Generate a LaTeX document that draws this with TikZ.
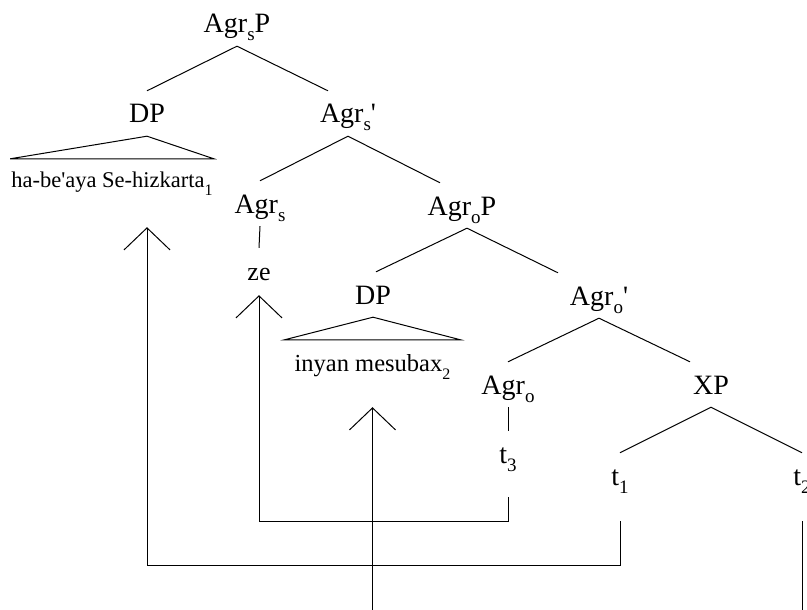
\documentclass[tikz,border=0pt]{standalone}
\usepackage{fontspec}
\setmainfont{Liberation Serif}[Ligatures=TeXOff]
\usetikzlibrary{arrows.meta}

% lowered index, size in pt as optional argument
\newcommand{\treesub}[2][19]{\raisebox{-8pt}{\fontsize{#1}{#1}\selectfont #2}}

\begin{document}
\begin{tikzpicture}[
    x=1pt, y=-1pt,
    lbl/.style={font=\fontsize{28}{30}\selectfont, anchor=base,
      inner xsep=1pt, inner ysep=0pt, text height=32pt, text depth=13pt},
    leaf/.style={font=\fontsize{22.5}{25}\selectfont, anchor=base,
      inner xsep=1pt, inner ysep=0pt, text height=28pt, text depth=8pt},
    br/.style={line width=1pt},
    mv/.style={line width=1pt, -{Straight Barb[length=22pt,width=46pt]}}
  ]
    \clip (0,0) rectangle (807,610);

    %% Agr_s projection
    \node[lbl] (root)  at (237,33)  {Agr\treesub{s}P};
    \node[lbl] (dpa)   at (147,123) {DP};
    \node[lbl] (agrsb) at (348,123) {Agr\treesub{s}'};
    \node[leaf] (hb)   at (112,187) {ha-be'aya Se-hizkarta\treesub[16]{1}};
    \node[lbl] (agrs)  at (260,213) {Agr\treesub{s}};
    \node[lbl, font=\fontsize{26}{28}\selectfont] (ze) at (259,280) {ze};

    %% Agr_o projection
    \node[lbl] (agrop) at (462,215) {Agr\treesub{o}P};
    \node[lbl] (dpb)   at (373,304) {DP};
    \node[leaf, font=\fontsize{24.5}{27}\selectfont, inner xsep=10pt,
      text height=31pt] (mb) at (372.5,371) {inyan mesubax\treesub[16]{2}};
    \node[lbl] (agrob) at (599,305) {Agr\treesub{o}'};
    \node[lbl] (agro)  at (508,394) {Agr\treesub{o}};
    \node[lbl] (xp)    at (711,394) {XP};
    \node[lbl] (t3)    at (508,463) {t\treesub{3}};
    \node[lbl] (t1)    at (620,485) {t\treesub{1}};
    \node[lbl] (t2)    at (802,485) {t\treesub{2}};

    %% Branches
    \draw[br] (dpa.north) -- (root.south) -- ([xshift=-20pt]agrsb.north);
    \draw[br] (agrs.north) -- (agrsb.south) -- ([xshift=-22pt]agrop.north);
    \draw[br] (agrs.south) -- (ze.north);
    \draw[br] ([xshift=3pt]dpb.north) -- ([xshift=5pt]agrop.south)
      -- ([xshift=-41pt]agrob.north);
    \draw[br] (agro.north) -- (agrob.south) -- ([xshift=-21pt]xp.north);
    \draw[br] (agro.south) -- (t3.north);
    \draw[br] (t1.north) -- (xp.south) -- (t2.north);

    %% Triangles over the phrasal leaves
    \draw[br] (hb.north west) -- (dpa.south) -- (hb.north east) -- cycle;
    \draw[br] (mb.north west) -- (dpb.south) -- (mb.north east) -- cycle;

    %% Movement
    \draw[mv, shorten <=23pt, shorten >=32pt]
      (t1.south) -- ++(0,67) -| (dpa |- hb.south);
    \draw[mv, shorten <=21pt, shorten >=2pt]
      (t3.south) -- ++(0,45) -| (ze.south);
    \draw[mv, shorten <=23pt, shorten >=28pt]
      (t2.south) -- ++(0,130) -| (mb.south);
  \end{tikzpicture}
\end{document}
